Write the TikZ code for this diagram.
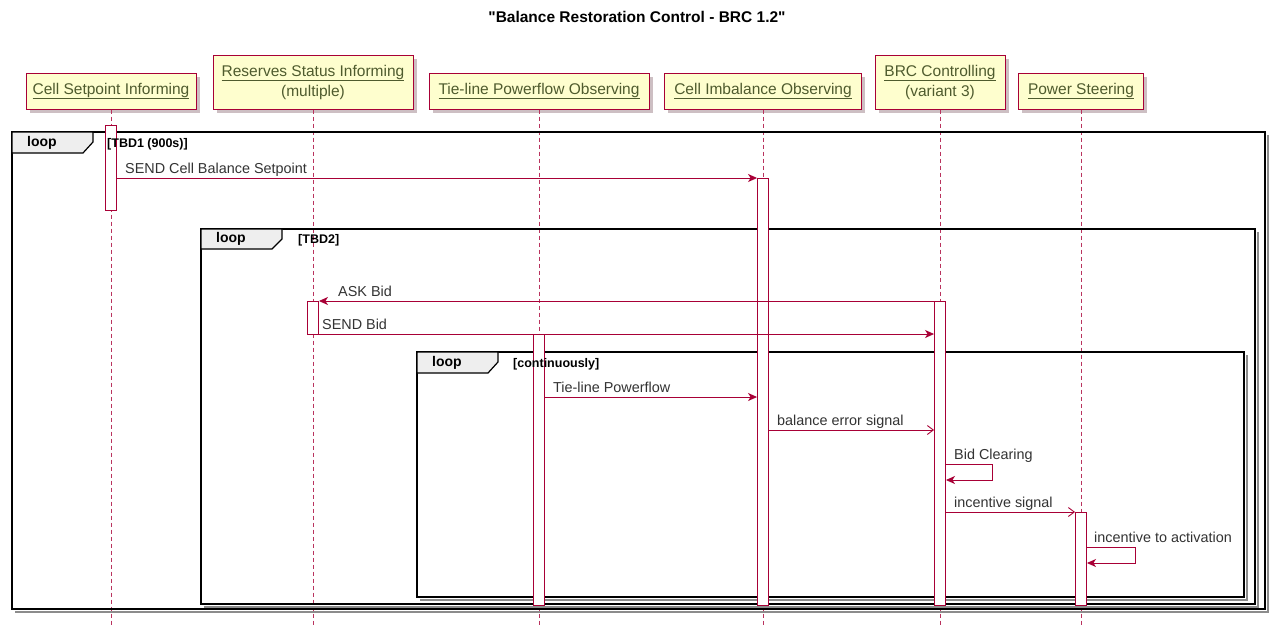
\documentclass[tikz,border=0pt]{standalone}
\usepackage{fontspec}
\setmainfont{Liberation Sans}
\usetikzlibrary{arrows.meta,shadows}

\definecolor{umlred}{HTML}{A80036}
\definecolor{umlfill}{HTML}{FEFECE}
\definecolor{umllink}{HTML}{4F5B2E}
\definecolor{umltext}{HTML}{333333}
\definecolor{tabfill}{HTML}{EEEEEE}

\tikzset{
  participant/.style={draw=umlred, fill=umlfill, line width=1pt, inner sep=0pt,
    align=center, text=umllink, font=\fontsize{15.5}{20}\selectfont,
    drop shadow={shadow xshift=3.5pt, shadow yshift=-3.5pt, fill=umlred!35!black!50, opacity=.5}},
  lifeline/.style={draw=umlred!80, line width=0.8pt, dash pattern=on 4pt off 3pt},
  actbar/.style={draw=umlred, fill=white, line width=0.9pt, rectangle,
    minimum width=11pt, inner sep=0pt},
  msg/.style={draw=umlred, line width=0.9pt, -{Stealth[length=9pt,width=8pt,inset=2.5pt]}},
  amsg/.style={draw=umlred, line width=0.9pt, -{Straight Barb[length=6pt,width=9pt]}},
  msglabel/.style={anchor=base west, inner sep=0pt, text=umltext,
    font=\fontsize{14.4}{17}\selectfont},
  umlframe/.style={draw=black, line width=1.5pt},
  frameshadow/.style={draw=black!45, line width=2.5pt},
  looptab/.style={draw=black, fill=tabfill, line width=1.2pt},
  looptext/.style={anchor=west, inner sep=0pt, font=\bfseries\fontsize{14}{16}\selectfont},
  guardtext/.style={anchor=west, inner sep=0pt, font=\bfseries\fontsize{12.5}{14}\selectfont},
  titletext/.style={inner sep=0pt, font=\bfseries\fontsize{15.5}{18}\selectfont}
}

\begin{document}
\begin{tikzpicture}[x=1pt,y=-1pt]
\useasboundingbox[fill=white] (0,0) rectangle (1274,627);

% title
\node[titletext] (title) at (637,17)
  {\textquotedbl Balance Restoration Control - BRC 1.2\textquotedbl};

% participants
\node[participant, minimum width=170pt, minimum height=36pt] (p1) at (111,91)
  {\underline{Cell Setpoint Informing}};
\node[participant, minimum width=200pt, minimum height=54pt] (p2) at (313,82)
  {\underline{Reserves Status Informing}\\(multiple)};
\node[participant, minimum width=220pt, minimum height=36pt] (p3) at (539,91)
  {\underline{Tie-line Powerflow Observing}};
\node[participant, minimum width=197pt, minimum height=36pt] (p4) at (763,91)
  {\underline{Cell Imbalance Observing}};
\node[participant, minimum width=130pt, minimum height=54pt] (p5) at (940,82)
  {\underline{BRC Controlling}\\(variant 3)};
\node[participant, minimum width=125pt, minimum height=36pt] (p6) at (1081,91)
  {\underline{Power Steering}};

% lifelines
\coordinate (bottom) at (0,627);
\foreach \p in {p1,p2,p3,p4,p5,p6}
  \draw[lifeline] (\p.south) -- (\p.south |- bottom);

% loop frames
\draw[frameshadow] (15,612) -- (1268,612) -- (1268,135);
\draw[umlframe] (12,132) rectangle (1265,609);
\draw[looptab] (12,132) -- (93,132) -- (93,142) -- (83,153) -- (12,153) -- cycle;
\node[looptext] (loop1) at (27,143) {loop};

\draw[frameshadow] (204,607) -- (1258,607) -- (1258,232);
\draw[umlframe] (201,229) rectangle (1255,604);
\draw[looptab] (201,229) -- (282,229) -- (282,239) -- (272,249) -- (201,249) -- cycle;
\node[looptext] (loop2) at (216,239) {loop};

\draw[frameshadow] (420,600) -- (1247,600) -- (1247,355);
\draw[umlframe] (417,352) rectangle (1244,597);
\draw[looptab] (417,352) -- (498,352) -- (498,362) -- (488,373) -- (417,373) -- cycle;
\node[looptext] (loop3) at (432,363) {loop};

% activation bars
\node[actbar, minimum height=85pt]  (a1) at (111,167.5) {};
\node[actbar, minimum height=427pt] (a2) at (763,391.5) {};
\node[actbar, minimum height=33pt]  (a3) at (313,317.5) {};
\node[actbar, minimum height=304pt] (a4) at (940,453) {};
\node[actbar, minimum height=271pt] (a5) at (539,469.5) {};
\node[actbar, minimum height=93pt]  (a6) at (1081,558.5) {};

% loop guards, written over the bars
\node[guardtext] (guard1) at (107,144) {[TBD1 (900s)]};
\node[guardtext] (guard2) at (298,240) {[TBD2]};
\node[guardtext] (guard3) at (513,364) {[continuously]};

% message rows
\coordinate (r1) at (0,178);
\coordinate (r2) at (0,301);
\coordinate (r3) at (0,334);
\coordinate (r4) at (0,397);
\coordinate (r5) at (0,430);
\coordinate (r6a) at (0,464);
\coordinate (r6b) at (0,480);
\coordinate (r7) at (0,512);
\coordinate (r8a) at (0,547);
\coordinate (r8b) at (0,563);

% messages
\draw[msg] (a1.east |- r1) -- (a2.west |- r1);
\node[msglabel] (m1) at (125,173) {SEND Cell Balance Setpoint};

\draw[msg] (a4.west |- r2) -- (a3.east |- r2);
\node[msglabel] (m2) at (338,296) {ASK Bid};

\draw[msg] (a3.east |- r3) -- (a4.west |- r3);
\node[msglabel] (m3) at (322,329) {SEND Bid};

\draw[msg] (a5.east |- r4) -- (a2.west |- r4);
\node[msglabel] (m4) at (553,392) {Tie-line Powerflow};

\draw[amsg] (a2.east |- r5) -- (a4.west |- r5);
\node[msglabel] (m5) at (777,425) {balance error signal};

\draw[msg] (a4.east |- r6a) -- ++(46,0) -- ++(0,16) -- (a4.east |- r6b);
\node[msglabel] (m6) at (954,459) {Bid Clearing};

\draw[amsg] (a4.east |- r7) -- (a6.west |- r7);
\node[msglabel] (m7) at (954,507) {incentive signal};

\draw[msg] (a6.east |- r8a) -- ++(48,0) -- ++(0,16) -- (a6.east |- r8b);
\node[msglabel] (m8) at (1094,542) {incentive to activation};

\end{tikzpicture}
\end{document}
